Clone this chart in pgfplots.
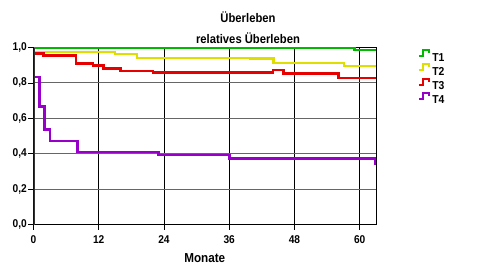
\documentclass[border=0pt]{standalone}
\usepackage{fontspec}
\setmainfont{Liberation Sans}
\newfontfamily\nf{Liberation Sans}[FakeStretch=0.9]
\usepackage{pgfplots}
\pgfplotsset{compat=1.18}
\definecolor{cT1}{RGB}{0,185,0}
\definecolor{cT2}{RGB}{222,222,0}
\definecolor{cT3}{RGB}{230,0,0}
\definecolor{cT4}{RGB}{150,0,200}
\begin{document}
\begin{tikzpicture}
\path[use as bounding box] (0pt,0pt) rectangle (497pt,266pt);
\node[anchor=base, font=\nf\bfseries\fontsize{12.5}{14}\selectfont] at (248pt,243.3pt) {Überleben};
\node[anchor=base, font=\nf\bfseries\fontsize{12.5}{14}\selectfont] at (248pt,222.7pt) {relatives Überleben};
\begin{axis}[
  at={(33.5pt,41.5pt)}, anchor=south west,
  width=342.5pt, height=177pt, scale only axis,
  xmin=0, xmax=63, ymin=0, ymax=1,
  xtick={0,12,24,36,48,60},
  ytick={0,0.2,0.4,0.6,0.8,1.0},
  xtick pos=bottom, ytick pos=left,
  tick align=outside,
  major tick length=5pt,
  tick style={black, line width=0.8pt},
  xmajorgrids, ymajorgrids,
  x grid style={black, line width=0.8pt},
  y grid style={black!60, line width=1pt},
  axis line style={black, line width=0.8pt},
  /pgf/number format/assume math mode=true,
  yticklabel={\pgfmathprintnumber[fixed, fixed zerofill, precision=1, use comma]{\tick}},
  every tick label/.append style={font=\nf\bfseries\fontsize{11.3}{13}\selectfont},
  xticklabel style={yshift=-3pt},
  yticklabel style={inner sep=1.5pt},
  xlabel={Monate},
  xlabel style={at={(axis description cs:0.5,0)}, anchor=base, yshift=-37.8pt, font=\nf\bfseries\fontsize{13}{15}\selectfont},
  legend style={draw=none, fill=none, inner sep=0pt, outer sep=0pt,
    at={(1.1226,0.99)}, anchor=north west,
    font=\nf\bfseries\fontsize{11.5}{13}\selectfont,
    row sep=1.9pt,
    nodes={inner sep=0pt, text height=8.5pt, text depth=0pt},
    /tikz/every even column/.style={column sep=0pt}},
  legend cell align=left,
  legend image code/.code={\draw[#1, line width=2pt] (0pt,1pt) -- (4.5pt,1pt) -- (4.5pt,7pt) -- (10.5pt,7pt) -- (10.5pt,4pt);},
  every axis plot/.append style={line width=2.5pt, mark=none, const plot},
]
\addplot[cT1] coordinates {(0,1.0) (59,0.987) (63,0.987)};
\addlegendentry{\,T1}
\addplot[cT2] coordinates {(0,0.975) (15,0.962) (19,0.940) (39.9,0.937) (44.1,0.912) (57.1,0.895) (63,0.895)};
\addlegendentry{\,T2}
\addplot[cT3] coordinates {(0,0.967) (1.8,0.954) (7.8,0.911) (10.9,0.897) (12.9,0.881) (16,0.867) (22,0.860) (44.05,0.873) (46,0.852) (56.1,0.829) (63,0.829)};
\addlegendentry{\,T3}
\addplot[cT4] coordinates {(0,0.833) (1.07,0.666) (1.99,0.538) (3.04,0.473) (8.07,0.410) (23,0.393) (36.06,0.373) (62.9,0.342) (63,0.342)};
\addlegendentry{\,T4}
\draw[black!80, line width=2pt] (rel axis cs:0,0) -- (rel axis cs:0,1);
\end{axis}
\end{tikzpicture}
\end{document}
